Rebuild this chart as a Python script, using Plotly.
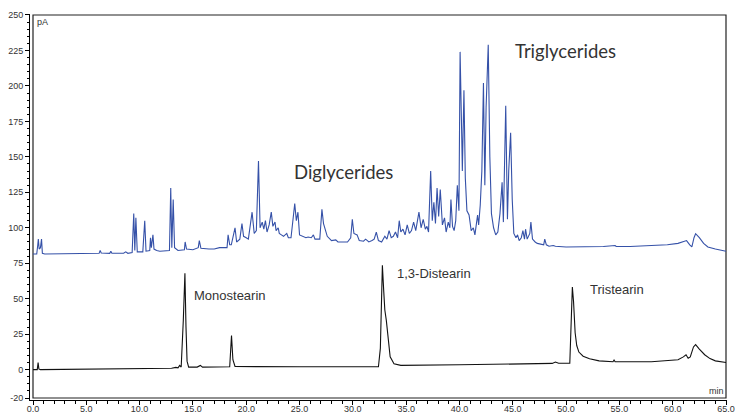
import plotly.graph_objects as go

# ---------------- data ----------------
# Black trace: standards (Monostearin, 1,3-Distearin, Tristearin)
std_time = [0.0, 0.4, 0.48, 0.55, 0.7, 5.0, 10.0, 13.0, 13.4, 13.6, 13.76, 13.9,
            14.1, 14.25, 14.35, 14.45, 14.6, 15.4, 15.7, 15.9, 18.45, 18.55, 18.62,
            18.75, 18.95, 25.0, 32.4, 32.58, 32.77, 32.9, 33.0, 33.14, 33.3, 33.5,
            33.86, 34.5, 40.0, 45.0, 48.7, 49.0, 49.3, 50.35, 50.48, 50.59, 50.7,
            50.85, 51.0, 51.2, 51.6, 52.2, 53.1, 54.4, 54.5, 54.6, 58.0, 60.5, 61.0,
            61.25, 61.45, 61.65, 61.95, 62.15, 62.5, 63.0, 63.5, 64.0, 65.0]
std_signal = [0.0, 0.0, 5.0, 0.5, 0.0, 0.2, 0.4, 1.0, 1.6, 1.3, 3.0, 1.8,
              35.0, 68.0, 30.0, 6.0, 1.8, 1.8, 3.0, 1.8, 2.0, 12.0, 24.0,
              7.0, 2.2, 2.0, 2.0, 15.0, 73.5, 55.0, 42.0, 34.7, 22.0, 9.0,
              4.2, 3.0, 3.4, 3.9, 4.4, 5.4, 4.5, 4.6, 35.0, 58.2, 48.0,
              26.0, 17.0, 12.4, 9.5, 7.7, 6.2, 5.6, 6.8, 5.6, 5.6, 7.0, 9.0,
              10.5, 8.0, 9.0, 16.0, 17.6, 14.5, 10.5, 7.8, 6.2, 5.0]

# Blue trace: sample (diglycerides / triglycerides region)
smp_time = [0.0, 0.35, 0.45, 0.5, 0.58, 0.7, 0.8, 0.88, 1.1, 4.0, 4.5, 5.5,
            6.2, 6.3, 6.4, 7.2, 7.3, 7.4, 8.5, 8.7, 8.9, 9.3, 9.45, 9.55, 9.65,
            9.78, 10.3, 10.48, 10.6, 10.95, 11.02, 11.1, 11.25, 11.35, 11.6,
            11.9, 12.8, 12.92, 13.02, 13.15, 13.28, 13.6, 14.2, 14.27, 14.4,
            15.0, 15.5, 15.6, 15.75, 16.5, 17.0, 17.5, 18.2, 18.3, 18.45, 18.6,
            18.95, 19.1, 19.4, 19.6, 19.75, 20.0, 20.2, 20.55, 20.75, 20.95,
            21.15, 21.3, 21.5, 21.65, 21.8, 21.95, 22.15, 22.35, 22.5, 22.7,
            22.8, 23.0, 23.1, 23.3, 23.5, 23.8, 23.95, 24.2, 24.55, 24.7, 24.85,
            25.0, 25.3, 25.6, 25.8, 26.1, 26.3, 26.45, 26.9, 27.1, 27.25, 27.35,
            27.6, 28.0, 28.4, 28.6, 29.0, 29.5, 29.8, 29.95, 30.1, 30.4, 30.6,
            31.0, 31.2, 31.5, 31.8, 32.0, 32.2, 32.4, 32.7, 33.0, 33.2, 33.4,
            33.6, 33.8, 34.0, 34.2, 34.35, 34.5, 34.7, 34.9, 35.1, 35.3, 35.5,
            35.7, 35.9, 36.2, 36.4, 36.6, 36.8, 36.95, 37.1, 37.3, 37.45, 37.6,
            37.75, 37.9, 38.05, 38.2, 38.4, 38.6, 38.75, 38.95, 39.1, 39.2,
            39.35, 39.5, 39.65, 39.8, 39.95, 40.06, 40.2, 40.27, 40.42, 40.55,
            40.7, 40.9, 41.1, 41.3, 41.45, 41.7, 41.8, 41.95, 42.1, 42.25, 42.38,
            42.5, 42.7, 42.85, 43.0, 43.2, 43.4, 43.6, 43.8, 44.0, 44.12, 44.34,
            44.5, 44.62, 44.8, 44.95, 45.1, 45.3, 45.45, 45.6, 45.8, 45.95, 46.1,
            46.2, 46.35, 46.5, 46.6, 46.7, 46.85, 47.1, 47.3, 47.9, 48.0, 48.15,
            48.4, 48.8, 49.0, 50.0, 52.0, 53.5, 54.6, 54.7, 56.0, 58.0, 59.5,
            60.5, 61.0, 61.3, 61.6, 61.8, 62.0, 62.15, 62.5, 62.9, 63.3, 64.0,
            65.0]
smp_signal = [81.5, 81.5, 88.0, 92.0, 85.0, 86.0, 92.0, 82.0, 81.5, 81.5, 82.0, 81.8,
              82.0, 84.0, 82.2, 82.0, 83.5, 82.0, 82.0, 83.0, 82.0, 82.5, 110.0, 84.0, 107.0,
              83.0, 83.0, 105.0, 83.5, 84.0, 93.0, 86.0, 95.0, 85.0, 84.0,
              83.5, 84.0, 128.0, 86.0, 120.0, 86.0, 84.0, 84.5, 90.0, 85.0,
              84.5, 86.0, 91.0, 85.5, 85.0, 85.0, 86.0, 86.0, 95.0, 88.0, 88.0,
              100.0, 90.0, 92.0, 103.0, 94.0, 93.0, 92.0, 111.0, 96.0, 98.0,
              147.0, 100.0, 104.0, 99.0, 105.0, 97.0, 102.0, 111.0, 101.0, 104.0,
              98.0, 100.0, 96.0, 95.0, 94.0, 96.0, 93.0, 93.0, 117.0, 105.0, 111.0,
              95.0, 94.0, 93.0, 93.5, 93.0, 95.0, 92.0, 92.0, 113.0, 103.0, 100.0,
              94.0, 91.0, 91.5, 90.0, 90.0, 90.0, 93.0, 106.0, 96.0, 95.0, 91.0,
              90.5, 92.0, 90.0, 91.0, 92.0, 97.0, 91.0, 90.0, 94.0, 92.0, 98.0,
              93.0, 94.0, 97.0, 93.0, 105.0, 97.0, 99.0, 95.0, 102.0, 96.0, 98.0,
              104.0, 98.0, 111.0, 100.0, 106.0, 99.0, 101.0, 97.0, 140.0, 105.0, 118.0,
              103.0, 128.0, 108.0, 127.0, 102.0, 107.0, 97.0, 104.0, 100.0, 120.0,
              101.0, 98.0, 105.0, 130.0, 112.0, 224.0, 170.0, 140.0, 197.0, 135.0,
              112.0, 109.0, 98.0, 100.0, 95.0, 109.0, 102.0, 116.0, 140.0, 202.0, 130.0,
              185.0, 229.0, 150.0, 110.0, 100.0, 95.0, 97.0, 110.0, 132.0, 104.0, 186.0,
              106.0, 140.0, 167.0, 120.0, 96.0, 93.0, 95.0, 91.0, 93.0, 98.0, 92.0,
              99.0, 92.0, 94.0, 96.0, 104.0, 92.0, 90.0, 89.0, 88.0, 92.0, 88.0,
              87.0, 87.5, 87.0, 86.5, 86.5, 86.8, 87.5, 86.8, 86.8, 87.3, 88.0,
              89.0, 90.5, 91.0, 88.0, 86.5, 93.0, 95.8, 93.0, 89.0, 86.5, 85.0,
              83.5]

x_tick_vals = [0, 5, 10, 15, 20, 25, 30, 35, 40, 45, 50, 55, 60, 65]
x_tick_text = ["0.0", "5.0", "10.0", "15.0", "20.0", "25.0", "30.0", "35.0",
               "40.0", "45.0", "50.0", "55.0", "60.0", "65.0"]
y_tick_vals = [-20, 0, 25, 50, 75, 100, 125, 150, 175, 200, 225, 250]
y_tick_text = ["-20", "0", "25", "50", "75", "100", "125", "150", "175", "200", "225", "250"]

# ---------------- figure ----------------
BLUE = "#3551a8"
TXT = "#333333"

fig = go.Figure()
fig.add_trace(go.Scatter(x=smp_time, y=smp_signal, mode="lines",
                         line=dict(color=BLUE, width=1.1), hoverinfo="skip"))
fig.add_trace(go.Scatter(x=std_time, y=std_signal, mode="lines",
                         line=dict(color="#111111", width=1.1), hoverinfo="skip"))

tick_font = dict(family="Liberation Sans, Arial, sans-serif", size=9, color=TXT)

fig.update_layout(
    width=736, height=415,
    margin=dict(l=30, r=9, t=14, b=15, autoexpand=False),
    paper_bgcolor="white", plot_bgcolor="white",
    showlegend=False,
    xaxis=dict(range=[-0.281, 65.094], showgrid=False, zeroline=False, automargin=False,
               showline=True, linecolor="black", linewidth=1,
               ticks="outside", ticklen=4, tickwidth=1, tickcolor="black",
               ticklabelstandoff=-4,
               tickvals=x_tick_vals, ticktext=x_tick_text, tickfont=tick_font,
               minor=dict(dtick=1, tick0=0, ticks="outside", ticklen=3,
                          tickcolor="black", tickwidth=1, showgrid=False)),
    yaxis=dict(range=[-21.4, 250.7], showgrid=False, zeroline=False, automargin=False,
               showline=True, linecolor="black", linewidth=1,
               ticks="outside", ticklen=4, tickwidth=1, tickcolor="black",
               tickvals=y_tick_vals, ticktext=y_tick_text, tickfont=tick_font,
               minor=dict(dtick=5, tick0=0, ticks="outside", ticklen=2,
                          tickcolor="black", tickwidth=1, showgrid=False)),
)

# inner frame
fig.add_shape(type="rect", xref="x", yref="y", x0=0, x1=65, y0=-20, y1=250,
              line=dict(color="#222222", width=1.2), layer="below")

label_font = dict(family="Liberation Sans, Arial, sans-serif", size=13, color=TXT)
big_font = dict(family="Lato, Open Sans, sans-serif", size=18.5, color=TXT)

fig.add_annotation(x=0.15, y=250, xref="x", yref="y", text="pA", showarrow=False,
                   xanchor="left", yanchor="top", font=tick_font)
fig.add_annotation(x=65, y=-20, xref="x", yref="y", text="min", showarrow=False,
                   xanchor="right", yanchor="bottom", font=tick_font)
fig.add_annotation(x=49.9, y=224.6, xref="x", yref="y", text="Triglycerides",
                   showarrow=False, font=big_font)
fig.add_annotation(x=29.1, y=139.4, xref="x", yref="y", text="Diglycerides",
                   showarrow=False, font=big_font)
fig.add_annotation(x=14.9, y=52, xref="x", yref="y", text="Monostearin",
                   showarrow=False, xanchor="left", font=label_font)
fig.add_annotation(x=33.96, y=67.6, xref="x", yref="y", text="1,3-Distearin",
                   showarrow=False, xanchor="left", font=label_font)
fig.add_annotation(x=52.06, y=56.3, xref="x", yref="y", text="Tristearin",
                   showarrow=False, xanchor="left", font=label_font)

fig.write_html("out.html")
